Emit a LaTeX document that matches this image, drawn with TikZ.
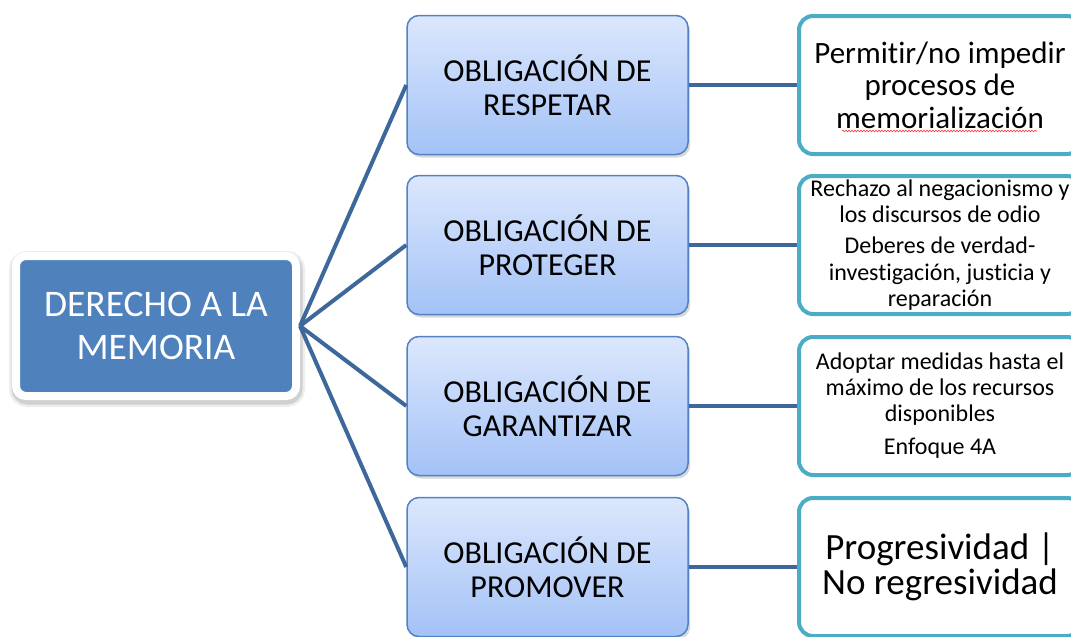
\documentclass[tikz,border=0pt]{standalone}
\usepackage{fontspec}
\setmainfont{Carlito}[Ligatures=NoCommon]
\usetikzlibrary{shadows,decorations.pathmorphing}
\definecolor{rootblue}{RGB}{79,129,189}
\definecolor{linkblue}{RGB}{62,104,156}
\definecolor{oblborder}{RGB}{82,130,195}
\definecolor{obltop}{RGB}{220,231,252}
\definecolor{oblbottom}{RGB}{163,194,247}
\definecolor{resteal}{RGB}{75,172,198}

\begin{document}
\begin{tikzpicture}[x=1pt, y=-1pt,
    rootbox/.style={rounded corners=10pt, fill=rootblue, draw=white, line width=8pt,
        minimum width=280pt, minimum height=140pt, inner sep=0pt, align=center, text=white,
        font=\fontsize{37.5}{43}\selectfont,
        preaction={draw=black, draw opacity=0.07, line width=16pt, transform canvas={xshift=1pt, yshift=-3pt}},
        preaction={draw=black, draw opacity=0.12, line width=11pt, transform canvas={xshift=1pt, yshift=-3pt}}},
    oblbox/.style={rounded corners=12pt, draw=oblborder, line width=1.5pt,
        top color=obltop, bottom color=oblbottom,
        minimum width=281pt, minimum height=139pt, inner sep=0pt, align=center,
        font=\fontsize{32}{34}\selectfont,
        drop shadow={shadow xshift=2pt, shadow yshift=-3pt, opacity=0.3}},
    resbox/.style={rounded corners=14pt, draw=resteal, line width=4pt, fill=white,
        minimum width=282pt, minimum height=138pt, inner sep=0pt, align=center},
    link/.style={draw=linkblue, line width=4pt}]
        \useasboundingbox (0,0) rectangle (1071,637);
        \clip (0,0) rectangle (1071,637);

        % Root
        \node[rootbox] (root) at (156,326) {DERECHO A LA\\MEMORIA};

        % Obligations
        \node[oblbox] (obl1) at (547.5,85) {OBLIGACIÓN DE\\RESPETAR};
        \node[oblbox] (obl2) at (547.5,245) {OBLIGACIÓN DE\\PROTEGER};
        \node[oblbox] (obl3) at (547.5,406) {OBLIGACIÓN DE\\GARANTIZAR};
        \node[oblbox] (obl4) at (547.5,567) {OBLIGACIÓN DE\\PROMOVER};

        % Contents
        \node[resbox, font=\fontsize{31}{32.5}\selectfont] (res1) at (940,85)
            {Permitir/no impedir\\procesos de\\memorialización};
        \node[resbox, font=\fontsize{24}{26.5}\selectfont] (res2) at (940,245)
            {Rechazo al negacionismo y\\los discursos de odio\\[4.5pt]Deberes de verdad-\\investigación, justicia y\\reparación};
        \node[resbox, font=\fontsize{24}{26}\selectfont] (res3) at (940,406)
            {Adoptar medidas hasta el\\máximo de los recursos\\disponibles\\[7pt]Enfoque 4A};
        \node[resbox, font=\fontsize{37}{35}\selectfont] (res4) at (940,567)
            {Progresividad |\\No regresividad};

        % Links
        \foreach \i in {1,...,4} {
            \draw[link] (root.east) -- (obl\i.west);
            \draw[link] (obl\i.east) -- (res\i.west);
        }

        % Spelling mark
        \draw[red!80, line width=0.6pt, decorate, decoration={snake, amplitude=0.8pt, segment length=3pt}]
            (842,131) -- (1037,131);
    \end{tikzpicture}
\end{document}
